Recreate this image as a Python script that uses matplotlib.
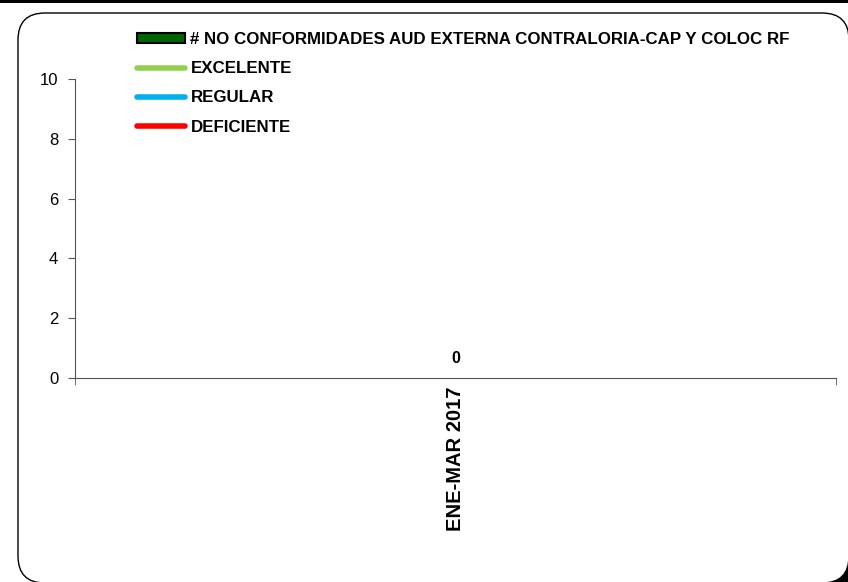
import matplotlib
matplotlib.use('Agg')
import matplotlib.pyplot as plt
from matplotlib.patches import FancyBboxPatch, Rectangle
from matplotlib.lines import Line2D
from matplotlib.patches import Patch

categories = ['ENE-MAR 2017']
values = [0]
bar_label = '# NO CONFORMIDADES AUD EXTERNA CONTRALORIA-CAP Y COLOC RF'
line_labels = ['EXCELENTE', 'REGULAR', 'DEFICIENTE']
line_colors = ['#92D050', '#00B0F0', '#FF0000']
y_ticks = [0, 2, 4, 6, 8, 10]

plt.rcParams['font.family'] = ['Liberation Sans', 'DejaVu Sans']

fig = plt.figure(figsize=(8.48, 5.82), dpi=100)
fig.patch.set_facecolor('white')

# chart frame with rounded corners (in inches); black shows in the lower right corner
px = 1 / 100
fig.patches.append(Rectangle((818 * px, 0), 40 * px, 28 * px, transform=fig.dpi_scale_trans,
                             facecolor='black', edgecolor='none', zorder=0))
frame = FancyBboxPatch((18 * px, -1 * px), 831 * px, 5.69 + 1 * px,
                       boxstyle='round,pad=0,rounding_size=0.27',
                       transform=fig.dpi_scale_trans, facecolor='white',
                       edgecolor='black', linewidth=1, zorder=1)
fig.patches.append(frame)
fig.patches.append(Rectangle((0, 1 - 3 / 582), 1, 3 / 582, transform=fig.transFigure,
                             facecolor='black', edgecolor='none', zorder=2))

ax = fig.add_axes([75 / 848, 1 - 378 / 582, (836 - 75) / 848, (378 - 79) / 582])
ax.set_facecolor('none')
ax.set_zorder(3)

x = list(range(len(categories)))
ax.bar(x, values, width=0.5, color='#006400', linewidth=0)
for xi, v in zip(x, values):
    ax.text(xi, v + 0.4, str(v), ha='center', va='bottom', fontsize=11.5, fontweight='bold')

ax.set_xlim(-0.5, len(categories) - 0.5)
ax.set_ylim(0, 10)
ax.set_yticks(y_ticks)
ax.set_yticklabels([str(t) for t in y_ticks], fontsize=12)
ax.set_xticks(x)
ax.set_xticklabels(categories, rotation=90, fontsize=14.5, fontweight='bold')
ax.tick_params(axis='x', length=0, pad=6)
ax.set_xticks([-0.5, len(categories) - 0.5], minor=True)
ax.tick_params(axis='x', which='minor', length=5, direction='out', color='#555555')
ax.tick_params(axis='y', length=5, direction='out', color='#555555', pad=7)
ax.spines['top'].set_visible(False)
ax.spines['right'].set_visible(False)
ax.spines['left'].set_color('#555555')
ax.spines['bottom'].set_color('#555555')

handles = [Patch(facecolor='#006400', edgecolor='black', linewidth=1.5)]
handles += [Line2D([], [], color=c, linewidth=4, solid_capstyle='round') for c in line_colors]
labels = [bar_label] + line_labels
leg = fig.legend(handles, labels, loc='upper left', bbox_to_anchor=(137 / 848, 1 - 32 / 582),
                 frameon=False, borderpad=0, borderaxespad=0, handlelength=2.85,
                 handleheight=0.5, handletextpad=0.3, labelspacing=0.84,
                 prop={'weight': 'bold', 'size': 12.2})
leg.set_zorder(4)

fig.savefig('out.png', dpi=100)
